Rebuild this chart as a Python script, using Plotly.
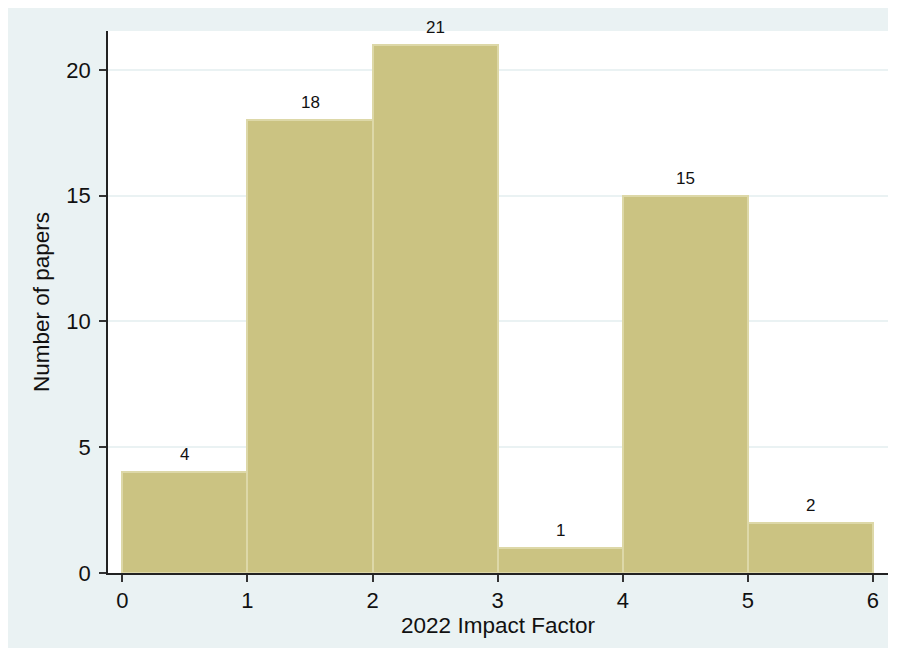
import plotly.graph_objects as go

bin_left = [0, 1, 2, 3, 4, 5]
counts = [4, 18, 21, 1, 15, 2]
x_ticks = [0, 1, 2, 3, 4, 5, 6]
y_ticks = [0, 5, 10, 15, 20]

centers = [b + 0.5 for b in bin_left]

fig = go.Figure()
fig.add_trace(go.Bar(
    x=centers, y=counts, width=1,
    marker=dict(color="#CBC382", line=dict(color="#DDD8A8", width=2)),
    hoverinfo="skip",
))
for c, v in zip(centers, counts):
    fig.add_annotation(x=c, y=v, text=str(v), showarrow=False,
                       yanchor="bottom", yshift=6,
                       font=dict(size=17, color="#111111"))

fig.update_layout(
    width=880, height=640,
    margin=dict(l=100, r=0, t=23, b=75),
    paper_bgcolor="#EAF2F3",
    plot_bgcolor="white",
    font=dict(family="Liberation Sans, Arial, sans-serif", color="#111111"),
    showlegend=False,
    bargap=0,
)
fig.update_xaxes(
    range=[-0.115, 6.12], tickvals=x_ticks, ticks="outside", ticklen=7,
    tickcolor="#333333", tickwidth=1.5,
    showline=True, linecolor="#222222", linewidth=1.5,
    showgrid=False, zeroline=False,
    tickfont=dict(size=22),
    title=dict(text="2022 Impact Factor", font=dict(size=22.5), standoff=0),
)
fig.update_yaxes(
    range=[0, 21.55], tickvals=y_ticks, ticks="outside", ticklen=7,
    tickcolor="#333333", tickwidth=1.5,
    showline=True, linecolor="#222222", linewidth=1.5,
    showgrid=True, gridcolor="#EAF2F3", gridwidth=1.5,
    zeroline=False,
    tickfont=dict(size=22),
    ticklabelstandoff=4,
    title=dict(text="Number of papers", font=dict(size=22.5), standoff=10),
)
fig.write_html("out.html")
